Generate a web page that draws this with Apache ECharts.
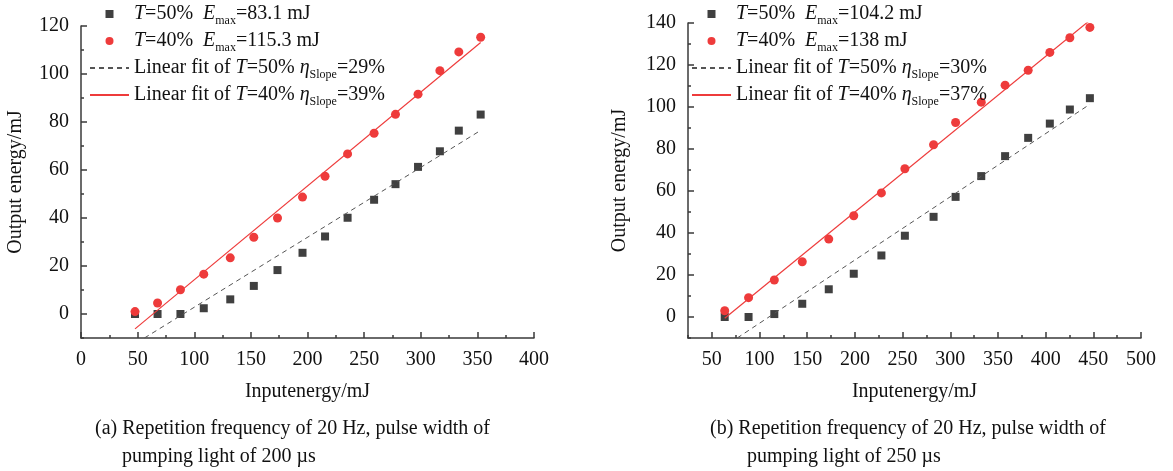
<!DOCTYPE html>
<html>
<head>
    <meta charset="UTF-8">
    <title>Output energy vs input energy</title>
    <script src="https://cdn.jsdelivr.net/npm/echarts@6/dist/echarts.min.js"></script>
    <style>
        body { margin: 0; background: #fff; }
        #main { width: 1173px; height: 471px; }
    </style>
</head>
<body>
    <div id="main"></div>
    <script>
        // (a) 200 us pump
        var aInput = [47.7, 67.6, 87.8, 108.4, 131.8, 152.6, 173.5, 195.6, 215.5, 235.4, 258.8, 277.7, 297.6, 316.9, 333.6, 352.9];
        var aT50 = [0, 0, 0, 2.4, 6.1, 11.7, 18.3, 25.5, 32.3, 40.1, 47.6, 54.1, 61.3, 67.8, 76.4, 83.1];
        var aT40 = [1.0, 4.6, 10.1, 16.6, 23.4, 32.0, 40.0, 48.7, 57.4, 66.7, 75.3, 83.2, 91.6, 101.4, 109.2, 115.3];
        var aFit50 = [[56, -10], [352.9, 76.5]];
        var aFit40 = [[47.7, -6.2], [352.9, 113.1]];

        // (b) 250 us pump
        var bInput = [63.5, 88.5, 115.5, 144.8, 172.6, 198.8, 227.8, 252.4, 282.5, 305.6, 332.5, 357.5, 381.7, 404.4, 425.4, 446.4];
        var bT50 = [0, 0, 1.4, 6.3, 13.2, 20.6, 29.3, 38.7, 47.7, 57.2, 67.1, 76.6, 85.3, 92.1, 98.8, 104.2];
        var bT40 = [3.0, 9.2, 17.6, 26.3, 37.1, 48.2, 59.1, 70.6, 82.0, 92.6, 102.3, 110.4, 117.5, 126.0, 133.0, 137.9];
        var bFit50 = [[76.6, -10], [446.4, 101.3]];
        var bFit40 = [[63.5, -0.6], [447.2, 141.6]];

        // tick labels
        var aXTicks = [0, 50, 100, 150, 200, 250, 300, 350, 400];
        var aXMinor = [25, 75, 125, 175, 225, 275, 325, 375];
        var aYTicks = [0, 20, 40, 60, 80, 100, 120];
        var aYMinor = [-10, 10, 30, 50, 70, 90, 110];
        var bXTicks = [50, 100, 150, 200, 250, 300, 350, 400, 450, 500];
        var bXMinor = [25, 75, 125, 175, 225, 275, 325, 375, 425, 475];
        var bYTicks = [0, 20, 40, 60, 80, 100, 120, 140];
        var bYMinor = [-10, 10, 30, 50, 70, 90, 110, 130];

        var legendText = {
            a50: '{i|T}=50%  {i|E}{s|max}=83.1 mJ',
            a40: '{i|T}=40%  {i|E}{s|max}=115.3 mJ',
            af50: 'Linear fit of {i|T}=50% {i|η}{s|Slope}=29%',
            af40: 'Linear fit of {i|T}=40% {i|η}{s|Slope}=39%',
            b50: '{i|T}=50%  {i|E}{s|max}=104.2 mJ',
            b40: '{i|T}=40%  {i|E}{s|max}=138 mJ',
            bf50: 'Linear fit of {i|T}=50% {i|η}{s|Slope}=30%',
            bf40: 'Linear fit of {i|T}=40% {i|η}{s|Slope}=37%'
        };

        var FONT = 'Liberation Serif';
        var AXIS = '#3a3a3a';
        var GRAY = '#404040';
        var RED = '#ee3b3b';
        var SQUARE = 'path://M0,0L10,0L10,10L0,10Z';
        var NOFILL = { color: 'rgba(0,0,0,0)', borderColor: 'rgba(0,0,0,0)', borderWidth: 0 };

        function pairs(xs, ys) {
            return xs.map(function (x, i) { return [x, ys[i]]; });
        }

        function mainAxis(grid, pos, min, max, ticks, extra) {
            var o = {
                type: 'value', gridIndex: grid, position: pos, min: min, max: max,
                axisLine: { show: true, onZero: false, lineStyle: { color: AXIS, width: 1.5 } },
                axisTick: { show: true, inside: true, length: 6, customValues: ticks, lineStyle: { color: AXIS, width: 1.5 } },
                axisLabel: { customValues: ticks, margin: 12, fontFamily: FONT, fontSize: 20, color: '#111' },
                splitLine: { show: false },
                nameTextStyle: { fontFamily: FONT, fontSize: 20, color: '#111' }
            };
            for (var k in extra) o[k] = extra[k];
            return o;
        }

        function minorAxis(grid, pos, min, max, ticks) {
            return {
                type: 'value', gridIndex: grid, position: pos, min: min, max: max,
                axisLine: { show: false, onZero: false },
                axisTick: { show: true, inside: true, length: 3, customValues: ticks, lineStyle: { color: AXIS, width: 1.5 } },
                axisLabel: { show: false },
                splitLine: { show: false }
            };
        }

        function legendFor(left, names) {
            return {
                orient: 'vertical', left: left, top: 1, padding: 0,
                itemWidth: 39, itemHeight: 8, itemGap: 1,
                symbolKeepAspect: true,
                data: [
                    { name: names[0], icon: SQUARE },
                    { name: names[1], icon: 'circle' },
                    { name: names[2], itemStyle: NOFILL },
                    { name: names[3], itemStyle: NOFILL }
                ],
                formatter: function (n) { return legendText[n]; },
                textStyle: {
                    fontFamily: FONT, fontSize: 20, color: '#111', lineHeight: 26,
                    rich: {
                        i: { fontFamily: FONT, fontSize: 20, fontStyle: 'italic', color: '#111', lineHeight: 26 },
                        s: { fontFamily: FONT, fontSize: 12, color: '#111', lineHeight: 8, verticalAlign: 'bottom' }
                    }
                }
            };
        }

        function captionTitle(text, left, top) {
            return {
                text: text, left: left, top: top, padding: 0,
                textStyle: { fontFamily: FONT, fontSize: 20, fontWeight: 'normal', color: '#111' }
            };
        }

        var chart = echarts.init(document.getElementById('main'), null, { renderer: 'canvas' });

        chart.setOption({
            animation: false,
            backgroundColor: '#fff',
            title: [
                captionTitle('(a) Repetition frequency of 20 Hz, pulse width of', 95, 419),
                captionTitle('pumping light of 200 µs', 122, 447),
                captionTitle('(b) Repetition frequency of 20 Hz, pulse width of', 710, 419),
                captionTitle('pumping light of 250 µs', 747, 447)
            ],
            legend: [
                legendFor(89, ['a50', 'a40', 'af50', 'af40']),
                legendFor(691, ['b50', 'b40', 'bf50', 'bf40'])
            ],
            grid: [
                { left: 81, top: 26, width: 453, height: 312 },
                { left: 688, top: 23, width: 453, height: 315 }
            ],
            xAxis: [
                mainAxis(0, 'bottom', 0, 400, aXTicks, { name: 'Inputenergy/mJ', nameLocation: 'middle', nameGap: 44 }),
                minorAxis(0, 'bottom', 0, 400, aXMinor),
                mainAxis(1, 'bottom', 25, 500, bXTicks, { name: 'Inputenergy/mJ', nameLocation: 'middle', nameGap: 44 }),
                minorAxis(1, 'bottom', 25, 500, bXMinor)
            ],
            yAxis: [
                mainAxis(0, 'left', -10, 120, aYTicks, { name: 'Output energy/mJ', nameLocation: 'middle', nameGap: 55 }),
                minorAxis(0, 'left', -10, 120, aYMinor),
                mainAxis(1, 'left', -10, 140, bYTicks, { name: 'Output energy/mJ', nameLocation: 'middle', nameGap: 58 }),
                minorAxis(1, 'left', -10, 140, bYMinor)
            ],
            series: [
                { name: 'a50', type: 'scatter', xAxisIndex: 0, yAxisIndex: 0, symbol: 'rect', symbolSize: 8,
                  itemStyle: { color: GRAY, opacity: 1 }, data: pairs(aInput, aT50) },
                { name: 'a40', type: 'scatter', xAxisIndex: 0, yAxisIndex: 0, symbol: 'circle', symbolSize: 9,
                  itemStyle: { color: RED, opacity: 1 }, data: pairs(aInput, aT40) },
                { name: 'af50', type: 'line', xAxisIndex: 0, yAxisIndex: 0, symbol: 'none', showSymbol: false,
                  itemStyle: { color: '#555' }, lineStyle: { color: '#555', width: 1, type: [5, 4] }, data: aFit50 },
                { name: 'af40', type: 'line', xAxisIndex: 0, yAxisIndex: 0, symbol: 'none', showSymbol: false,
                  itemStyle: { color: RED }, lineStyle: { color: RED, width: 1.2 }, data: aFit40 },

                { name: 'b50', type: 'scatter', xAxisIndex: 2, yAxisIndex: 2, symbol: 'rect', symbolSize: 8,
                  itemStyle: { color: GRAY, opacity: 1 }, data: pairs(bInput, bT50) },
                { name: 'b40', type: 'scatter', xAxisIndex: 2, yAxisIndex: 2, symbol: 'circle', symbolSize: 9,
                  itemStyle: { color: RED, opacity: 1 }, data: pairs(bInput, bT40) },
                { name: 'bf50', type: 'line', xAxisIndex: 2, yAxisIndex: 2, symbol: 'none', showSymbol: false,
                  itemStyle: { color: '#555' }, lineStyle: { color: '#555', width: 1, type: [5, 4] }, data: bFit50 },
                { name: 'bf40', type: 'line', xAxisIndex: 2, yAxisIndex: 2, symbol: 'none', showSymbol: false,
                  itemStyle: { color: RED }, lineStyle: { color: RED, width: 1.2 }, data: bFit40 }
            ]
        });
    </script>
</body>
</html>
